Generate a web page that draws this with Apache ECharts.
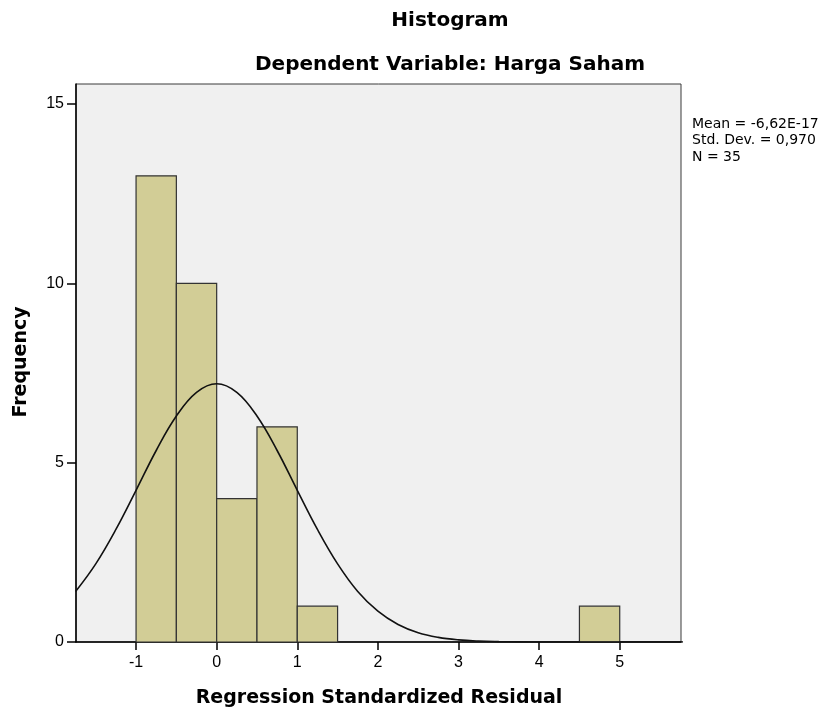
<!DOCTYPE html>
<html>
<head>
<meta charset="utf-8">
<title>Histogram</title>
<script src="https://cdn.jsdelivr.net/npm/echarts@6/dist/echarts.min.js"></script>
<style>
  html, body { margin: 0; padding: 0; background: #fff; }
  #chart { width: 818px; height: 710px; }
</style>
</head>
<body>
<div id="chart"></div>
<script>
// bins of the histogram (lower edge, upper edge, frequency)
const binStart = [-1, -0.5, 0, 0.5, 1, 4.5]
const binEnd = [-0.5, 0, 0.5, 1, 1.5, 5]
const binCount = [13, 10, 4, 6, 1, 1]

// normal curve
const curveX = [-1.75, -1.5, -1.25, -1, -0.75, -0.5, -0.25, 0, 0.25, 0.5, 0.75, 1, 1.25, 1.5, 1.75, 2, 2.25, 2.5, 2.75, 3, 3.25, 3.5, 3.75, 4, 4.5, 5, 5.5, 5.8]
const curveY = [1.41, 2.18, 3.14, 4.23, 5.34, 6.30, 6.96, 7.20, 6.96, 6.30, 5.34, 4.23, 3.14, 2.18, 1.41, 0.86, 0.49, 0.26, 0.13, 0.06, 0.026, 0.011, 0.004, 0.001, 0, 0, 0, 0]

const xTicks = [-1, 0, 1, 2, 3, 4, 5]
const yTicks = [0, 5, 10, 15]
const statLines = ['Mean = -6,62E-17', 'Std. Dev. = 0,970', 'N = 35']

const chart = echarts.init(document.getElementById('chart'))

const barData = binStart.map((s, i) => [s, binEnd[i], binCount[i]])
const lineData = curveX.map((x, i) => [x, curveY[i]])

const option = {
  animation: false,
  backgroundColor: '#ffffff',
  grid: {
    left: 76, right: 137, top: 84, bottom: 68,
    show: true,
    backgroundColor: '#f0f0f0',
    borderColor: '#3a3a3a',
    borderWidth: 1
  },
  graphic: [
    {
      type: 'text', z: 10,
      style: { text: 'Histogram', x: 450, y: 21, align: 'center', verticalAlign: 'middle',
        font: 'bold 20px "DejaVu Sans"', fill: '#000' }
    },
    {
      type: 'text', z: 10,
      style: { text: 'Dependent Variable: Harga Saham', x: 450, y: 65, align: 'center', verticalAlign: 'middle',
        font: 'bold 20px "DejaVu Sans"', fill: '#000' }
    },
    ...statLines.map((t, i) => ({
      type: 'text', z: 10,
      style: { text: t, x: 692, y: 124 + i * 16.5, align: 'left', verticalAlign: 'middle',
        font: '14px "DejaVu Sans"', fill: '#000' }
    })),
    {
      type: 'text', z: 10, x: 21, y: 362, rotation: Math.PI / 2,
      style: { text: 'Frequency', x: 0, y: 0, align: 'center', verticalAlign: 'middle',
        font: 'bold 19px "DejaVu Sans"', fill: '#000' }
    },
    {
      type: 'text', z: 10,
      style: { text: 'Regression Standardized Residual', x: 379, y: 698, align: 'center', verticalAlign: 'middle',
        font: 'bold 19px "DejaVu Sans"', fill: '#000' }
    }
  ],
  xAxis: {
    type: 'value',
    min: -1.745,
    max: 5.76,
    splitLine: { show: false },
    axisLine: { show: true, onZero: false, lineStyle: { color: '#000', width: 1.5 } },
    axisTick: { show: true, length: 8, customValues: xTicks, lineStyle: { color: '#000', width: 1.5 } },
    axisLabel: {
      customValues: xTicks, margin: 13,
      fontFamily: 'Liberation Sans', fontSize: 16, color: '#000'
    }
  },
  yAxis: {
    type: 'value',
    min: 0,
    max: 15.56,
    splitLine: { show: false },
    axisLine: { show: true, onZero: false, lineStyle: { color: '#000', width: 1.5 } },
    axisTick: { show: true, length: 9, customValues: yTicks, lineStyle: { color: '#000', width: 1.5 } },
    axisLabel: {
      customValues: yTicks, margin: 12,
      fontFamily: 'Liberation Sans', fontSize: 16, color: '#000'
    }
  },
  series: [
    {
      type: 'custom',
      data: barData,
      encode: { x: [0, 1], y: 2 },
      renderItem: (params, api) => {
        const p0 = api.coord([api.value(0), 0])
        const p1 = api.coord([api.value(1), api.value(2)])
        return {
          type: 'rect',
          shape: { x: p0[0], y: p1[1], width: p1[0] - p0[0], height: p0[1] - p1[1] },
          style: { fill: '#d2cd96', stroke: '#333333', lineWidth: 1.2 }
        }
      }
    },
    {
      type: 'line',
      data: lineData,
      smooth: 0.4,
      symbol: 'none',
      clip: true,
      lineStyle: { color: '#111', width: 1.6 },
      z: 5
    }
  ]
}

chart.setOption(option)
</script>
</body>
</html>
